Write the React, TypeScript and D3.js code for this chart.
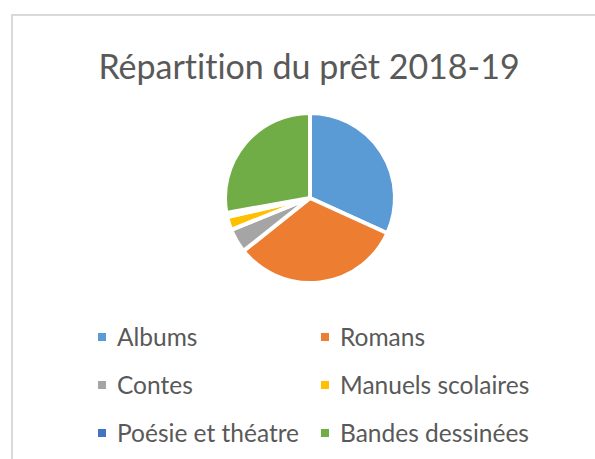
import React, { useEffect, useRef } from 'react';
import * as d3 from 'd3';

const title = 'Répartition du prêt 2018-19';
const categories = ['Albums', 'Romans', 'Contes', 'Manuels scolaires', 'Poésie et théatre', 'Bandes dessinées'];
const values = [31.8, 32.5, 4.6, 2.5, 0.8, 27.8];
const colors = ['#5B9BD5', '#ED7D31', '#A5A5A5', '#FFC000', '#4472C4', '#70AD47'];

const PieChart = () => {
  const ref = useRef<SVGSVGElement>(null);

  useEffect(() => {
    const svg = d3.select(ref.current);
    svg.selectAll('*').remove();

    const width = 595;
    const height = 459;
    const font = 'Lato, "Open Sans", sans-serif';

    svg.append('rect').attr('width', width).attr('height', height).attr('fill', '#ffffff');

    // chart area border (runs off the right and bottom edges)
    svg.append('rect')
      .attr('x', 12)
      .attr('y', 15)
      .attr('width', width + 20)
      .attr('height', height + 20)
      .attr('fill', 'none')
      .attr('stroke', '#d9d9d9')
      .attr('stroke-width', 2);

    svg.append('text')
      .attr('x', 309)
      .attr('y', 79)
      .attr('text-anchor', 'middle')
      .attr('fill', '#595959')
      .style('font-family', font)
      .style('font-size', '34px')
      .style('font-variant-ligatures', 'none')
      .text(title);

    const data = categories.map((c, i) => ({ name: c, value: values[i], color: colors[i] }));
    const pie = d3.pie<any>().sort(null).value(d => d.value);
    const arc = d3.arc<any>().innerRadius(0).outerRadius(85);

    const g = svg.append('g').attr('transform', 'translate(310, 198)');
    g.selectAll('path')
      .data(pie(data))
      .enter()
      .append('path')
      .attr('d', arc)
      .attr('fill', d => d.data.color)
      .attr('stroke', '#ffffff')
      .attr('stroke-width', 4)
      .attr('stroke-linejoin', 'round');

    // legend: two columns, three rows
    const colX = [98, 321];
    const rowY = d3.scaleLinear().domain([0, 2]).range([337, 433]);
    const legend = svg.append('g');
    const items = legend.selectAll('g')
      .data(data)
      .enter()
      .append('g')
      .attr('transform', (d, i) => `translate(${colX[i % 2]}, ${rowY(Math.floor(i / 2))})`);
    items.append('rect')
      .attr('x', 0)
      .attr('y', -4)
      .attr('width', 8)
      .attr('height', 8)
      .attr('fill', d => d.color);
    items.append('text')
      .attr('x', 19)
      .attr('y', 8.5)
      .attr('fill', '#595959')
      .style('font-family', font)
      .style('font-size', '24.5px')
      .style('font-variant-ligatures', 'none')
      .text(d => d.name);
  }, []);

  return <svg ref={ref} width={595} height={459} style={{ position: 'absolute', left: 0, top: 0 }} />;
};

export default function App() {
  return <PieChart />;
}
